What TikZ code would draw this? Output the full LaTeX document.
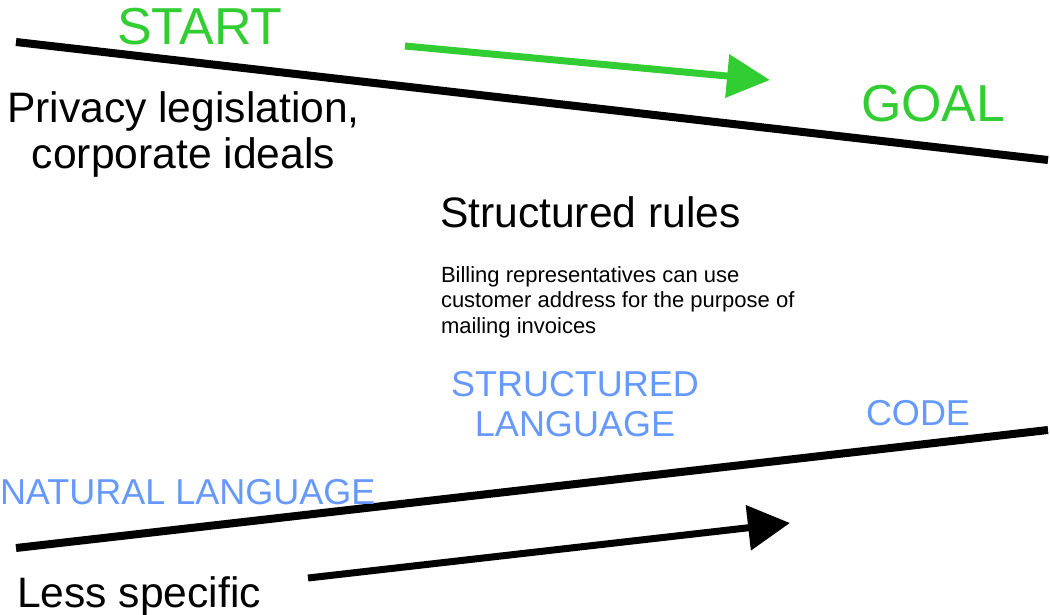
\documentclass[tikz,border=0pt]{standalone}
\usepackage{fontspec}
\setmainfont{Liberation Sans}
\usetikzlibrary{arrows.meta}
\definecolor{goalgreen}{RGB}{50,205,50}
\definecolor{langblue}{RGB}{102,153,255}
\tikzset{
  lbl/.style={inner sep=0pt, outer sep=0pt},
  big/.style={lbl, font=\fontsize{42.6}{46}\selectfont},
  greenlbl/.style={lbl, text=goalgreen, font=\fontsize{52}{56}\selectfont},
  bluelbl/.style={lbl, text=langblue, font=\fontsize{36}{40}\selectfont},
  small/.style={lbl, font=\fontsize{22}{25.5}\selectfont},
  axis/.style={line width=8pt, black},
  garrow/.style={line width=7pt, goalgreen, -{Triangle[length=43pt,width=42pt]}},
  barrow/.style={line width=7pt, black, -{Triangle[length=42pt,width=44pt]}}
}
\begin{document}
\begin{tikzpicture}[x=1pt,y=-1pt]
\useasboundingbox (0,0) rectangle (1050,614);
% top line
\coordinate (t1) at (16,42);
\coordinate (t2) at (1048,160);
\draw[axis] (t1) -- (t2);
\coordinate (g1) at (405,46);
\coordinate (g2) at (770,80);
\draw[garrow] (g1) -- (g2);
\node[greenlbl, anchor=base west] (start) at (117,44) {START};
\node[greenlbl, anchor=base west] (goal) at (861,121) {GOAL};
\node[big, anchor=base west] (priv1) at (7,122) {Privacy legislation,};
\node[big, anchor=base] (priv2) at (priv1.base |- 0,168) {corporate ideals};
\node[big, anchor=base west] (rules) at (440,227) {Structured rules};
\node[small, anchor=base west] (bill1) at (441,282) {Billing representatives can use};
\node[small, anchor=base west] (bill2) at (441,307.5) {customer address for the purpose of};
\node[small, anchor=base west] (bill3) at (441,333) {mailing invoices};
% bottom
\coordinate (b1) at (16,548);
\coordinate (b2) at (1048,430);
\draw[axis] (b1) -- (b2);
\coordinate (k1) at (308,578);
\coordinate (k2) at (790,523);
\draw[barrow] (k1) -- (k2);
\node[bluelbl, anchor=base] (sl1) at (575,396) {STRUCTURED};
\node[bluelbl, anchor=base] (sl2) at (575,436) {LANGUAGE};
\node[bluelbl, anchor=base] (code) at (918,425) {CODE};
\node[bluelbl, anchor=base west] (nat) at (0,504) {NATURAL LANGUAGE};
\node[big, anchor=base west] (less) at (17,607) {Less specific};
\end{tikzpicture}
\end{document}
